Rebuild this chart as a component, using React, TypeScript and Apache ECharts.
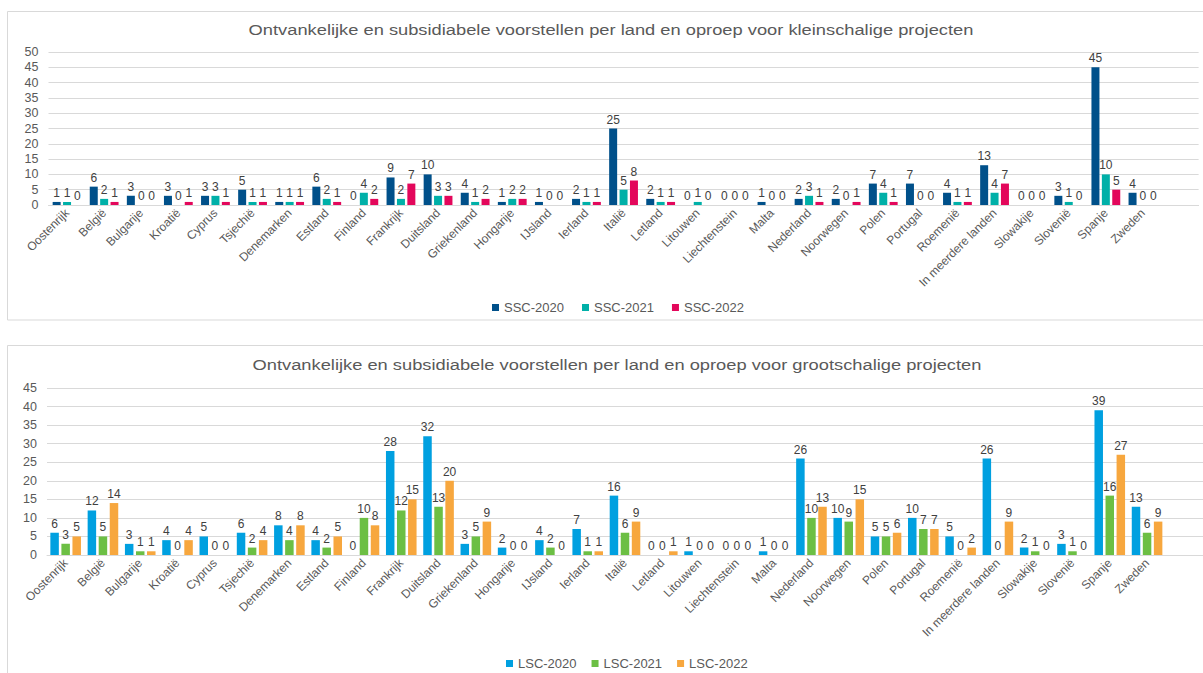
import React, { useEffect, useRef } from "react";
import * as echarts from "echarts";

const categories = [
  "Oostenrijk", "België", "Bulgarije", "Kroatië", "Cyprus", "Tsjechië", "Denemarken", "Estland",
  "Finland", "Frankrijk", "Duitsland", "Griekenland", "Hongarije", "IJsland", "Ierland", "Italië",
  "Letland", "Litouwen", "Liechtenstein", "Malta", "Nederland", "Noorwegen", "Polen", "Portugal",
  "Roemenië", "In meerdere landen", "Slowakije", "Slovenië", "Spanje", "Zweden", "",
];

const ssc2020 = [1, 6, 3, 3, 3, 5, 1, 6, 0, 9, 10, 4, 1, 1, 2, 25, 2, 0, 0, 1, 2, 2, 7, 7, 4, 13, 0, 3, 45, 4];
const ssc2021 = [1, 2, 0, 0, 3, 1, 1, 2, 4, 2, 3, 1, 2, 0, 1, 5, 1, 1, 0, 0, 3, 0, 4, 0, 1, 4, 0, 1, 10, 0];
const ssc2022 = [0, 1, 0, 1, 1, 1, 1, 1, 2, 7, 3, 2, 2, 0, 1, 8, 1, 0, 0, 0, 1, 1, 1, 0, 1, 7, 0, 0, 5, 0];

const lsc2020 = [6, 12, 3, 4, 5, 6, 8, 4, 0, 28, 32, 3, 2, 4, 7, 16, 0, 1, 0, 1, 26, 10, 5, 10, 5, 26, 2, 3, 39, 13];
const lsc2021 = [3, 5, 1, 0, 0, 2, 4, 2, 10, 12, 13, 5, 0, 2, 1, 6, 0, 0, 0, 0, 10, 9, 5, 7, 0, 0, 1, 1, 16, 6];
const lsc2022 = [5, 14, 1, 4, 0, 4, 8, 5, 8, 15, 20, 9, 0, 0, 1, 9, 1, 0, 0, 0, 13, 15, 6, 7, 2, 9, 0, 0, 27, 9];

const sscNames = ["SSC-2020", "SSC-2021", "SSC-2022"];
const lscNames = ["LSC-2020", "LSC-2021", "LSC-2022"];

const titleTop = "Ontvankelijke en subsidiabele voorstellen per land en oproep voor kleinschalige projecten";
const titleBottom = "Ontvankelijke en subsidiabele voorstellen per land en oproep voor grootschalige projecten";

const FONT = "Liberation Sans, Arial, sans-serif";

export default function App() {
  const ref = useRef<HTMLDivElement>(null);
  useEffect(() => {
    document.body.style.margin = "0";
    const chart = echarts.init(ref.current!, null, { renderer: "svg" });
    const labelStyle = {
      show: true,
      position: "top" as const,
      distance: 3,
      fontSize: 12,
      color: "#404040",
      textBorderWidth: 0,
      fontFamily: FONT,
    };
    const mkX = (gridIndex: number) => ({
      type: "category" as const,
      gridIndex,
      data: categories,
      axisTick: { show: false },
      axisLine: { show: true, lineStyle: { color: "#d9d9d9", width: 1 } },
      axisLabel: {
        interval: 0,
        rotate: 45,
        fontSize: 12,
        color: "#595959",
        fontFamily: FONT,
        margin: 6,
      },
    });
    const mkY = (gridIndex: number, max: number) => ({
      type: "value" as const,
      gridIndex,
      min: 0,
      max,
      interval: 5,
      axisLine: { show: false },
      axisTick: { show: false },
      splitLine: { lineStyle: { color: "#d9d9d9", width: 1 } },
      axisLabel: { fontSize: 12.5, color: "#595959", fontFamily: FONT, margin: 10 },
    });
    const mkBar = (name: string, data: number[], color: string, idx: number, bw: number) => ({
      name,
      type: "bar" as const,
      xAxisIndex: idx,
      yAxisIndex: idx,
      data,
      barWidth: bw,
      barGap: "30%",
      itemStyle: { color },
      label: labelStyle,
    });
    const titleStyle = {
      fontSize: 15,
      fill: "#595959",
      fontFamily: FONT,
      textAlign: "center",
      textVerticalAlign: "middle",
    };
    chart.setOption({
      animation: false,
      backgroundColor: "#ffffff",
      textStyle: { fontFamily: FONT },
      graphic: [
        {
          type: "rect",
          shape: { x: 7.5, y: 11.5, width: 1210, height: 308.5 },
          style: { fill: "none", stroke: "#d9d9d9", lineWidth: 1 },
          silent: true,
        },
        {
          type: "rect",
          shape: { x: 7.5, y: 345.5, width: 1210, height: 400 },
          style: { fill: "none", stroke: "#d9d9d9", lineWidth: 1 },
          silent: true,
        },
        {
          type: "text",
          x: 611,
          y: 30,
          scaleX: 1.22,
          style: { ...titleStyle, text: titleTop },
        },
        {
          type: "text",
          x: 617,
          y: 365,
          scaleX: 1.22,
          style: { ...titleStyle, text: titleBottom },
        },
      ],
      legend: [
        {
          data: sscNames,
          left: 487,
          top: 296,
          icon: "rect",
          itemWidth: 7,
          itemHeight: 7,
          itemGap: 18,
          textStyle: { fontSize: 13, color: "#595959", fontFamily: FONT },
        },
        {
          data: lscNames,
          left: 501,
          top: 652,
          icon: "rect",
          itemWidth: 7,
          itemHeight: 7,
          itemGap: 15,
          textStyle: { fontSize: 13, color: "#595959", fontFamily: FONT },
        },
      ],
      grid: [
        { left: 48.5, width: 31 * 37.1, top: 52, height: 153 },
        { left: 47, width: 31 * 37.5, top: 388, height: 167 },
      ],
      xAxis: [mkX(0), mkX(1)],
      yAxis: [mkY(0, 50), mkY(1, 45)],
      series: [
        mkBar(sscNames[0], ssc2020, "#00508A", 0, 8),
        mkBar(sscNames[1], ssc2021, "#00B0A8", 0, 8),
        mkBar(sscNames[2], ssc2022, "#E3075B", 0, 8),
        mkBar(lscNames[0], lsc2020, "#00A0E0", 1, 8.5),
        mkBar(lscNames[1], lsc2021, "#6CBF44", 1, 8.5),
        mkBar(lscNames[2], lsc2022, "#F7A73E", 1, 8.5),
      ],
    });
    return () => chart.dispose();
  }, []);
  return (
    <div
      ref={ref}
      style={{ position: "absolute", left: 0, top: 0, width: 1203, height: 673 }}
    />
  );
}
